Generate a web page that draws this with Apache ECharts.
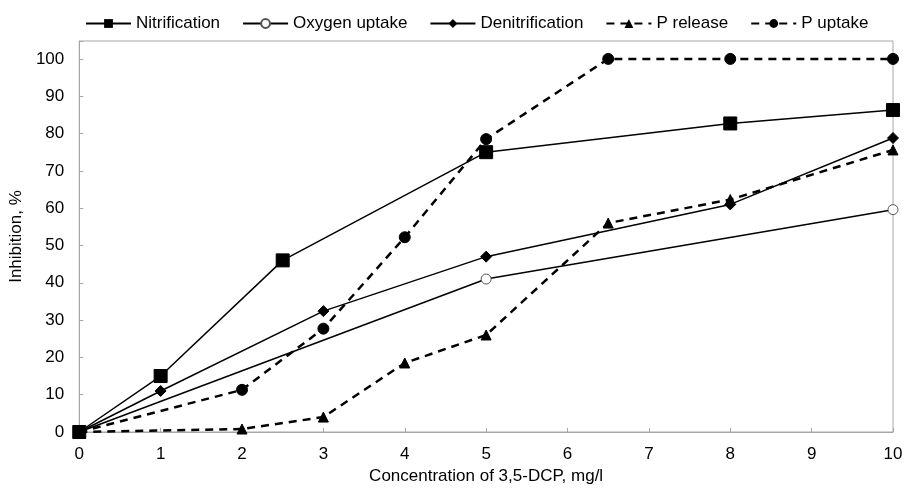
<!DOCTYPE html>
<html lang="en">
  <head>
    <meta charset="UTF-8" />
    <title>Inhibition vs 3,5-DCP</title>
    <script src="https://cdn.jsdelivr.net/npm/echarts@6/dist/echarts.min.js"></script>
  </head>
  <body style="margin:0">
    <style>
      #chart {
        width: 907px;
        height: 490px;
      }
    </style>
    <div id="chart"></div>

    <script>
      // concentration (mg/l) vs inhibition (%)
      const nitrification = [[0, 0], [1, 15], [2.5, 46], [5, 75], [8, 82.7], [10, 86.3]];
      const oxygenUptake = [[0, 0], [5, 41], [10, 59.6]];
      const denitrification = [[0, 0], [1, 11], [3, 32.4], [5, 47], [8, 61], [10, 78.8]];
      const pRelease = [[0, 0], [2, 0.8], [3, 4], [4, 18.5], [5, 26], [6.5, 56], [8, 62.3], [10, 75.6]];
      const pUptake = [[0, 0], [2, 11.3], [3, 27.7], [4, 52.2], [5, 78.5], [6.5, 100], [8, 100], [10, 100]];

      const font = 'Liberation Sans, Arial, sans-serif';
      const chart = echarts.init(document.getElementById('chart'));

      function line(name, data, symbol, size, dashed, extra) {
        return Object.assign({
          name: name,
          type: 'line',
          data: data,
          symbol: symbol,
          symbolSize: size,
          showAllSymbol: true,
          animation: false,
          lineStyle: {
            color: '#000',
            width: dashed ? 2.5 : 1.5,
            type: dashed ? [8, 6] : 'solid'
          },
          itemStyle: { color: '#000', borderColor: '#000' }
        }, extra || {});
      }

      chart.setOption({
        animation: false,
        textStyle: { fontFamily: font },
        legend: {
          top: 10,
          left: 80,
          itemWidth: 45,
          itemHeight: 11,
          itemGap: 22,
          textStyle: { fontSize: 17, color: '#000', fontFamily: font },
          data: ['Nitrification', 'Oxygen uptake', 'Denitrification', 'P release', 'P uptake']
        },
        grid: {
          left: 77,
          right: 14,
          top: 41,
          bottom: 57,
          show: true,
          borderColor: '#a6a6a6',
          borderWidth: 1
        },
        xAxis: {
          type: 'value',
          min: 0,
          max: 10,
          interval: 1,
          name: 'Concentration of 3,5-DCP, mg/l',
          nameLocation: 'middle',
          nameGap: 36,
          nameTextStyle: { fontSize: 17, color: '#000' },
          axisLine: { lineStyle: { color: '#a6a6a6' } },
          axisTick: { inside: true, length: 4, lineStyle: { color: '#a6a6a6' } },
          axisLabel: { fontSize: 17, color: '#000', margin: 14 },
          splitLine: { show: false }
        },
        yAxis: {
          type: 'value',
          min: 0,
          max: 104.8,
          interval: 10,
          name: 'Inhibition, %',
          nameLocation: 'middle',
          nameGap: 51,
          nameTextStyle: { fontSize: 17, color: '#000' },
          axisLine: { show: true, lineStyle: { color: '#a6a6a6' } },
          axisTick: { show: true, inside: true, length: 4, lineStyle: { color: '#a6a6a6' } },
          axisLabel: {
            fontSize: 17,
            color: '#000',
            margin: 15,
            formatter: function (v) { return v % 10 === 0 ? v : ''; }
          },
          splitLine: { show: false }
        },
        series: [
          line('Nitrification', nitrification, 'rect', 13, false),
          line('Oxygen uptake', oxygenUptake, 'circle', 10, false, {
            itemStyle: { color: '#fff', borderColor: '#555', borderWidth: 1 }
          }),
          line('Denitrification', denitrification, 'diamond', 11, false),
          line('P release', pRelease, 'triangle', 10, true),
          line('P uptake', pUptake, 'circle', 11, true)
        ]
      });
    </script>
  </body>
</html>
